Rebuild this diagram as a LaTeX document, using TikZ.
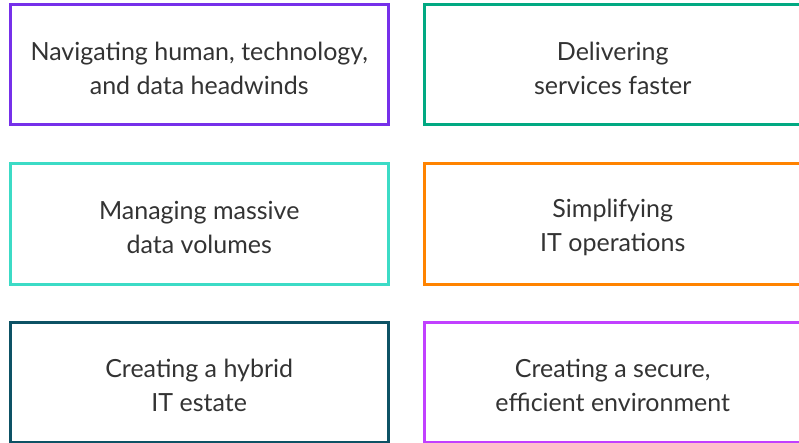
\documentclass[tikz,border=0pt]{standalone}
\usepackage{fontspec}
\setmainfont{Lato}
\definecolor{cpurple}{HTML}{7630EA}
\definecolor{cgreen}{HTML}{01A982}
\definecolor{ccyan}{HTML}{3CDBC6}
\definecolor{corange}{HTML}{FF8300}
\definecolor{cdark}{HTML}{0D5265}
\definecolor{cviolet}{HTML}{C140FF}
\definecolor{ctext}{HTML}{333333}
\begin{document}
\begin{tikzpicture}[x=1pt,y=-1pt,
  card/.style={draw=#1, line width=3pt, minimum width=377.5pt, minimum height=120pt, inner sep=0pt},
  lbl/.style={align=center, text=ctext, font=\fontsize{25}{34}\selectfont}]
\useasboundingbox (0,0) rectangle (799,443);
\begin{scope}
\clip (0,0) rectangle (799,443);
\node[card=cpurple] (a) at (199.25,65) {};
\node[card=cgreen] (b) at (612.75,65) {};
\node[card=ccyan] (c) at (199.25,224) {};
\node[card=corange] (d) at (612.75,224) {};
\node[card=cdark] (e) at (199.25,382) {};
\node[card=cviolet] (f) at (612.75,382) {};
\end{scope}
\node[lbl] (ta) at ([yshift=-3pt]a.center) {Navigating human, technology,\\and data headwinds};
\node[lbl] (tb) at ([yshift=-3pt]b.center) {Delivering\\services faster};
\node[lbl] (tc) at ([yshift=-3pt]c.center) {Managing massive\\data volumes};
\node[lbl] (td) at ([yshift=-3pt]d.center) {Simplifying\\IT operations};
\node[lbl] (te) at ([yshift=-3pt]e.center) {Creating a hybrid\\IT estate};
\node[lbl] (tf) at ([yshift=-3pt]f.center) {Creating a secure,\\efficient environment};
\end{tikzpicture}
\end{document}
